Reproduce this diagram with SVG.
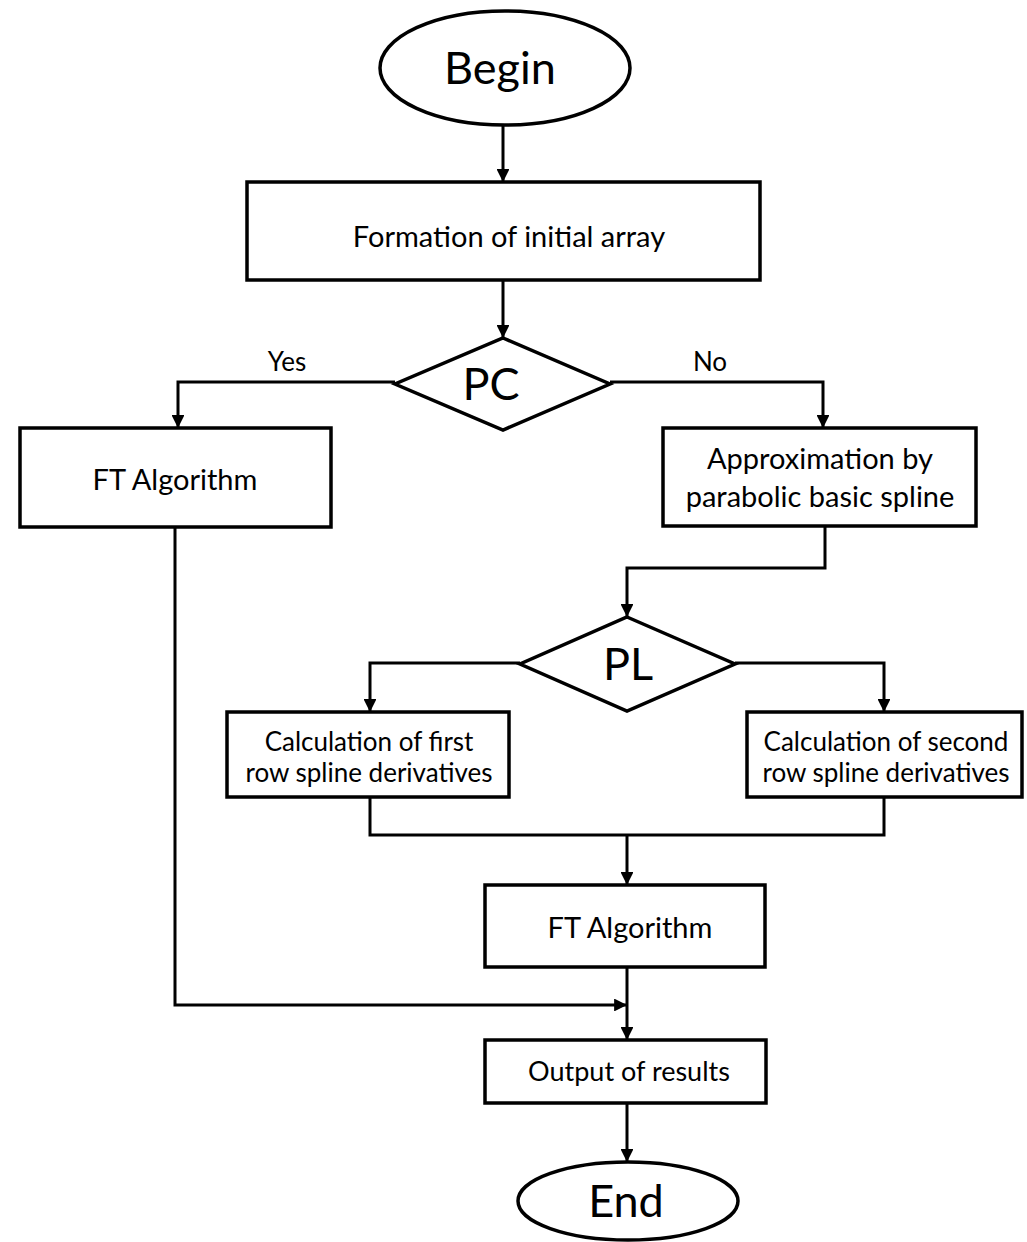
<svg xmlns="http://www.w3.org/2000/svg" width="1027" height="1242" viewBox="0 0 1027 1242">
<style>
.s{fill:#fff;stroke:#000;stroke-width:3.5}
.c{fill:none;stroke:#000;stroke-width:3}
text{font-family:Lato,"Open Sans",sans-serif;fill:#000;text-anchor:middle}
.t{font-size:29px}
.o{font-size:27px}
.m{font-size:26px}
.b{font-size:45px}
.l{font-size:26px}
</style>
<defs>
<marker id="a" viewBox="0 0 10 10" refX="10" refY="5" markerWidth="4.3" markerHeight="4.3" orient="auto" markerUnits="strokeWidth">
<path d="M0,0 L10,5 L0,10 z" fill="#000"/>
</marker>
</defs>
<rect width="1027" height="1242" fill="#fff"/>
<g id="connectors">
<path class="c" d="M503,125 V182" marker-end="url(#a)"/>
<path class="c" d="M503,280 V338" marker-end="url(#a)"/>
<path class="c" d="M395,382 H178 V428" marker-end="url(#a)"/>
<path class="c" d="M610,382 H823 V428" marker-end="url(#a)"/>
<path class="c" d="M825,527 V568 H627 V617" marker-end="url(#a)"/>
<path class="c" d="M520,663 H370 V712" marker-end="url(#a)"/>
<path class="c" d="M735,663 H884 V712" marker-end="url(#a)"/>
<path class="c" d="M370,797 V835 H884 V797"/>
<path class="c" d="M627,835 V885" marker-end="url(#a)"/>
<path class="c" d="M627,967 V1040" marker-end="url(#a)"/>
<path class="c" d="M175,527 V1005 H627" marker-end="url(#a)"/>
<path class="c" d="M627,1103 V1162" marker-end="url(#a)"/>
</g>
<g id="begin"><ellipse class="s" cx="505" cy="68" rx="125" ry="57"/><text class="b" x="500" y="84">Begin</text></g>
<g id="formation"><rect class="s" x="247" y="182" width="513" height="98"/><text class="t" x="509" y="247">Formation of initial array</text></g>
<g id="pc"><polygon class="s" points="503,338 610,384 503,430 395,384"/><text class="b" x="491" y="400">PC</text></g>
<text class="l" x="287" y="371">Yes</text>
<text class="l" x="710" y="371">No</text>
<g id="ft1"><rect class="s" x="20" y="428" width="311" height="99"/><text class="t" x="175" y="490">FT Algorithm</text></g>
<g id="approx"><rect class="s" x="663" y="428" width="313" height="98"/><text class="t" x="820" y="469">Approximation by</text><text class="t" x="820" y="507">parabolic basic spline</text></g>
<g id="pl"><polygon class="s" points="627,617 735,664 627,711 520,664"/><text class="b" x="628" y="680">PL</text></g>
<g id="first"><rect class="s" x="227" y="712" width="282" height="85"/><text class="m" x="369" y="751">Calculation of first</text><text class="m" x="369" y="782">row spline derivatives</text></g>
<g id="second"><rect class="s" x="747" y="712" width="275" height="85"/><text class="m" x="886" y="751">Calculation of second</text><text class="m" x="886" y="782">row spline derivatives</text></g>
<g id="ft2"><rect class="s" x="485" y="885" width="280" height="82"/><text class="t" x="630" y="938">FT Algorithm</text></g>
<g id="output"><rect class="s" x="485" y="1040" width="281" height="63"/><text class="o" x="629" y="1081">Output of results</text></g>
<g id="end"><ellipse class="s" cx="628" cy="1201" rx="110" ry="39"/><text class="b" x="626" y="1217">End</text></g>
</svg>
